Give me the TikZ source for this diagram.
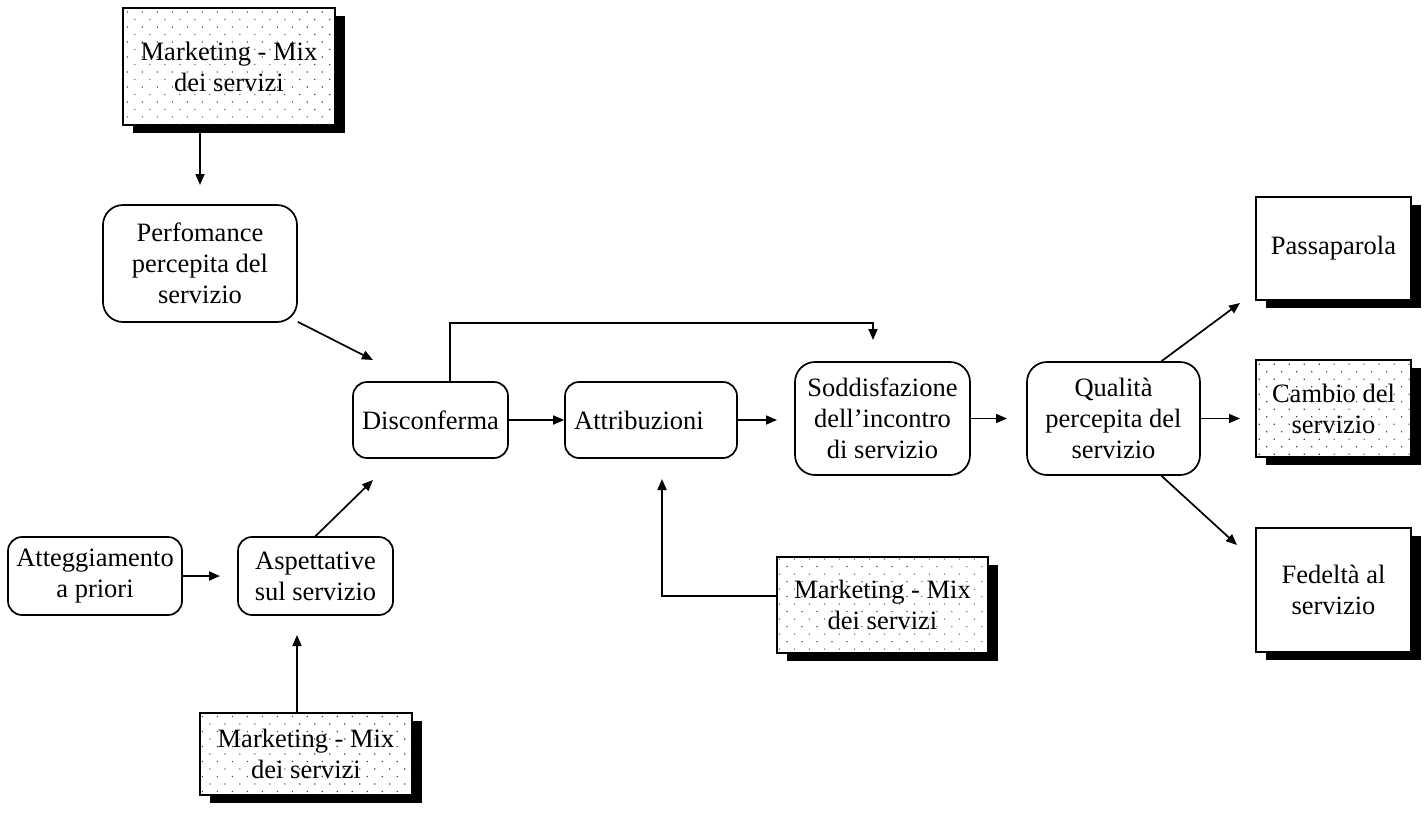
\documentclass[tikz,border=0pt]{standalone}
\usepackage{fontspec}
\setmainfont{Liberation Serif}
\usetikzlibrary{arrows.meta,shadows,patterns.meta}
\begin{document}
\begin{tikzpicture}[x=1pt,y=-1pt,
  font=\fontsize{26.5}{31}\selectfont,
  rbox/.style={draw, line width=1.7pt, rounded corners=16pt, align=center, inner sep=0pt},
  sbox/.style={draw, line width=1.7pt, fill=white, align=center, inner sep=0pt,
    drop shadow={shadow xshift=10pt, shadow yshift=-8pt, fill=black, opacity=1}},
  dbox/.style={sbox, postaction={pattern={Dots[angle=45,distance=10.6pt,radius=0.8pt]}, pattern color=black!75}},
  arr/.style={-{Triangle[length=11pt,width=9pt]}, line width=1.7pt}]
\useasboundingbox (0,0) rectangle (1426,814);

% nodes
\node[dbox, minimum width=212pt, minimum height=117pt] (mk1) at (229,66.5) {Marketing - Mix\\dei servizi};
\node[rbox, minimum width=194pt, minimum height=117pt, rounded corners=20pt] (perf) at (200,263.5) {Perfomance\\percepita del\\servizio};
\node[rbox, minimum width=155pt, minimum height=76pt, rounded corners=14pt] (disc) at (430.5,420) {Disconferma};
\node[rbox, minimum width=172pt, minimum height=76pt, rounded corners=14pt] (attr) at (651,420) {Attribuzioni\hspace{24pt}};
\node[rbox, minimum width=175pt, minimum height=113pt, rounded corners=20pt] (sodd) at (882.5,418.5) {Soddisfazione\\dell’incontro\\di servizio};
\node[rbox, minimum width=173pt, minimum height=113pt, rounded corners=20pt] (qual) at (1113.5,418.5) {Qualità\\percepita del\\servizio};
\node[sbox, minimum width=155pt, minimum height=103pt] (pass) at (1333.5,248.5) {Passaparola};
\node[dbox, minimum width=155pt, minimum height=97pt] (camb) at (1333.5,408.5) {Cambio del\\servizio};
\node[sbox, minimum width=155pt, minimum height=124pt] (fed) at (1333.5,590) {Fedeltà al\\servizio};
\node[rbox, minimum width=174pt, minimum height=78pt, rounded corners=14pt] (att) at (95,576) {Atteggiamento\\a priori};
\node[rbox, minimum width=155pt, minimum height=78pt, rounded corners=14pt] (asp) at (315.5,576) {Aspettative\\sul servizio};
\node[dbox, minimum width=212pt, minimum height=82pt] (mk3) at (306,754) {Marketing - Mix\\dei servizi};
\node[dbox, minimum width=211pt, minimum height=96pt] (mk2) at (882.5,605) {Marketing - Mix\\dei servizi};

% free arrow ends
\coordinate (t1) at (200,185);
\coordinate (t2) at (373,360);
\coordinate (t3) at (373,480);
\coordinate (t4) at (220,576);
\coordinate (t5) at (297,635);
\coordinate (t6) at (777,420);
\coordinate (t8) at (450,323);
\coordinate (t7) at (873,340);
\coordinate (t9) at (662,479);
\coordinate (t10) at (1007,418.5);
\coordinate (t11) at (1240,418.5);
\coordinate (t12) at (1240,303);
\coordinate (t13) at (1237,545);

% connectors
\draw[arr] (mk1.south -| t1) -- (t1);
\draw[arr] (perf.south east) ++(0,-1) -- (t2);
\draw[arr] (asp.north) -- (t3);
\draw[arr] (att.east) -- (t4);
\draw[arr] (mk3.north -| t5) -- (t5);
\draw[arr] (disc.east) -- (attr.west);
\draw[arr] (attr.east) -- (t6);
\draw[arr] (disc.north -| t8) -- (t8) -| (t7);
\draw[arr] ([yshift=9pt]mk2.west) -| (t9);
\draw[arr] (sodd.east) -- (t10);
\draw[arr] (qual.east) -- (t11);
\draw[arr] ([xshift=48pt]qual.north) -- (t12);
\draw[arr] ([xshift=48pt]qual.south) -- (t13);
\end{tikzpicture}
\end{document}
